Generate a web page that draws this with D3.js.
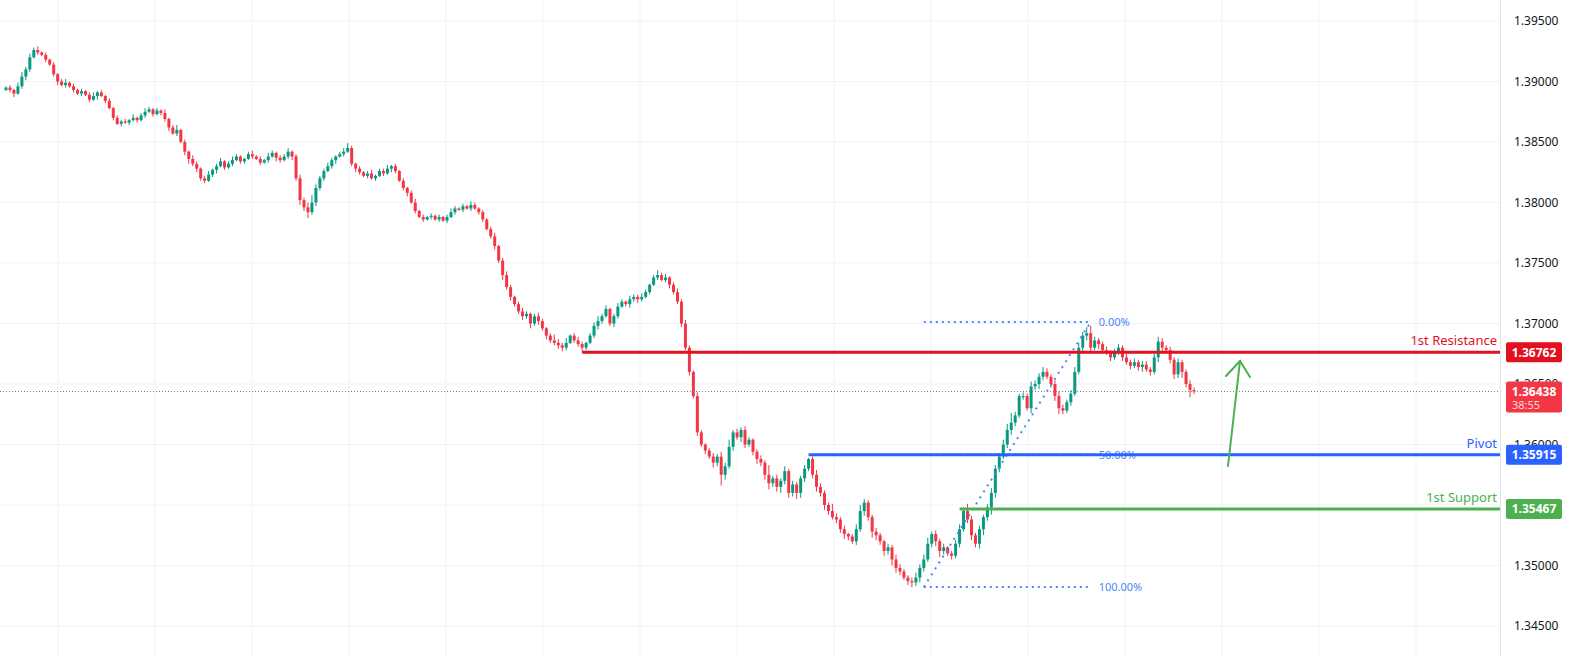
<!DOCTYPE html>
<html>
<head>
<meta charset="utf-8">
<script src="https://cdn.jsdelivr.net/npm/d3@7"></script>
<style>
body { margin: 0; background: #fff; }
text { font-family: "Noto Sans", Roboto, sans-serif; }
</style>
</head>
<body>
<div id="chart"></div>
<script>
// cierres en unidades de 0.0001 (3895 -> 1.3895)
const closes = [
  3895,3893,3890,3896,3904,3910,3920,3926,3924,3922,
  3918,3914,3906,3900,3897,3899,3896,3893,3890,3892,
  3889,3885,3888,3891,3888,3884,3878,3870,3865,3867,
  3866,3868,3870,3868,3872,3875,3877,3873,3876,3874,
  3869,3862,3857,3860,3850,3842,3836,3832,3828,3820,
  3818,3823,3827,3830,3834,3829,3832,3835,3838,3834,
  3836,3840,3838,3836,3833,3835,3838,3841,3837,3835,
  3838,3842,3838,3820,3802,3796,3792,3800,3812,3820,
  3826,3830,3835,3838,3840,3842,3845,3832,3828,3825,
  3822,3824,3820,3822,3826,3824,3828,3830,3826,3818,
  3812,3808,3800,3793,3788,3786,3788,3789,3786,3788,
  3785,3788,3792,3795,3794,3797,3795,3798,3795,3792,
  3786,3778,3772,3764,3752,3740,3730,3722,3716,3710,
  3706,3708,3700,3706,3702,3696,3690,3686,3684,3682,
  3680,3684,3690,3686,3683,3680,3684,3690,3698,3702,
  3706,3712,3700,3706,3714,3718,3716,3720,3722,3720,
  3722,3726,3732,3738,3740,3736,3738,3732,3726,3718,
  3700,3680,3660,3640,3610,3600,3595,3590,3585,3590,
  3575,3582,3598,3610,3606,3612,3600,3604,3594,3588,
  3585,3575,3568,3572,3565,3570,3578,3560,3567,3560,
  3572,3580,3588,3575,3565,3560,3550,3545,3540,3538,
  3530,3526,3524,3520,3530,3545,3552,3540,3528,3525,
  3520,3512,3515,3505,3498,3495,3490,3487,3486,3490,
  3498,3505,3518,3526,3520,3512,3515,3510,3508,3518,
  3530,3545,3538,3525,3518,3530,3540,3548,3560,3580,
  3590,3600,3612,3618,3624,3640,3640,3630,3648,3650,
  3656,3660,3656,3650,3640,3630,3628,3635,3642,3660,
  3680,3690,3692,3680,3686,3683,3678,3676,3672,3676,
  3680,3672,3668,3665,3668,3664,3666,3662,3660,3672,
  3685,3680,3678,3670,3658,3668,3660,3650,3645,3643.8
];
// mechas (unidades de 0.0001) por encima y por debajo del cuerpo
const upperWick = [
  1,2,1,3,4,2,3,2,3,1, 2,1,2,1,2,3,1,2,1,2, 1,2,3,1,2,1,2,1,2,1, 2,1,3,1,2,3,2,1,2,1,
  3,1,2,4,1,2,1,3,2,1, 2,3,1,2,3,1,2,3,2,1, 1,2,3,1,2,1,3,2,1,2, 2,3,1,2,3,2,4,6,3,2,
  2,3,2,1,2,3,4,2,1,2, 1,2,3,1,2,2,3,1,2,1, 2,1,2,3,1,2,1,2,1,2, 1,2,3,2,1,2,1,3,2,1,
  2,1,2,3,1,2,3,2,1,2, 3,2,1,2,3,2,1,2,5,3, 2,4,1,2,3,2,1,2,3,4, 2,3,1,2,3,2,1,3,2,2,
  3,2,1,2,4,2,3,1,2,3, 2,3,2,1,3,2,1,2,3,2, 4,3,6,2,3,2,3,2,1,2, 3,2,8,2,3,2,4,2,3,2,
  2,3,1,2,4,3,2,2,6,3, 2,3,1,2,4,5,3,2,2,3, 2,1,3,2,4,3,2,2,3,4, 3,4,5,2,3,2,3,1,2,3,
  4,3,6,3,2,3,2,3,4,3, 3,4,5,8,3,2,3,2,4,3, 3,4,3,2,3,4,3,2,3,4, 4,3,5,6,3,2,2,3,2,3,
  3,2,3,2,3,2,3,3,2,3, 4,3,2,3,2,3,2,2,3,2
];
const lowerWick = [
  1,2,3,1,2,3,2,1,2,1, 2,1,2,3,1,2,1,2,1,2, 1,2,1,3,1,2,1,2,1,2, 1,2,1,2,1,2,1,2,1,2,
  2,3,1,2,1,3,4,2,3,2, 2,1,2,3,1,2,1,2,1,2, 2,1,2,1,2,1,2,1,3,2, 1,2,3,2,4,3,5,2,3,2,
  2,1,2,3,1,2,1,2,3,2, 1,2,1,2,1,2,1,3,2,1, 2,3,1,2,1,2,1,2,1,2, 1,2,1,2,1,2,1,2,1,2,
  2,1,2,3,2,4,2,3,2,2, 3,2,4,2,3,2,3,2,2,3, 3,2,1,2,2,3,2,1,2,3, 2,1,2,3,2,1,2,3,2,3,
  2,1,2,1,2,1,2,3,2,2, 3,2,3,2,3,2,3,2,4,3, 9,4,2,3,2,4,3,2,3,4, 3,4,5,3,4,5,3,4,3,5,
  4,3,2,3,4,3,4,3,2,3, 3,4,3,2,3,2,4,3,5,4, 3,4,3,5,4,3,2,3,4,3, 4,3,2,3,4,5,3,2,3,2,
  3,2,3,4,3,4,5,3,6,4, 3,2,3,4,3,2,3,2,4,3, 4,3,2,3,4,5,3,2,3,2, 2,3,4,3,2,4,3,2,3,2,
  2,3,2,3,2,3,4,2,3,2, 4,3,2,3,4,3,5,3,6,2
];
const priceTicks = [1.345, 1.35, 1.355, 1.36, 1.365, 1.37, 1.375, 1.38, 1.385, 1.39, 1.395];
const gridX = [58, 155, 252, 349, 446, 543, 640, 737, 834, 931, 1028, 1125, 1222, 1319, 1416];
const levels = [
  { name: "1st Resistance", price: 1.36762, startIdx: 145, color: "#e3111f" },
  { name: "Pivot", price: 1.35915, startIdx: 202, color: "#2962ff" },
  { name: "1st Support", price: 1.35467, startIdx: 240, color: "#4caf50" }
];
const fib = { startIdx: 231, endIdx: 273, low: 1.34822, high: 1.37012 };
const fibLevels = [0, 0.5, 1];
const lastPrice = 1.36438;
const countdown = "38:55";

const W = 1580, H = 656, plotRight = 1500;
const svg = d3.select("#chart").append("svg").attr("width", W).attr("height", H);

const y = d3.scaleLinear().domain([1.345, 1.395]).range([626, 21]);
const x = d3.scaleLinear().domain([0, closes.length - 1]).range([6, 1194]);

// rejilla
svg.append("g").selectAll("line").data(priceTicks).join("line")
  .attr("x1", 0).attr("x2", plotRight).attr("y1", d => y(d)).attr("y2", d => y(d))
  .attr("stroke", "#f0f3fa");
svg.append("g").selectAll("line").data(gridX).join("line")
  .attr("x1", d => d).attr("x2", d => d).attr("y1", 0).attr("y2", H)
  .attr("stroke", "#f0f3fa");
svg.append("line").attr("x1", plotRight + 0.5).attr("x2", plotRight + 0.5)
  .attr("y1", 0).attr("y2", H).attr("stroke", "#e0e3eb");

// eje de precios
svg.append("g").selectAll("text").data(priceTicks).join("text")
  .attr("x", 1514).attr("y", d => y(d) + 4)
  .attr("font-size", 12).attr("fill", "#131722")
  .text(d => d.toFixed(5));

// velas
const candles = closes.map((c, i) => {
  const open = i === 0 ? 3893 : closes[i - 1];
  const top = Math.max(open, c), bot = Math.min(open, c);
  return { i, open: open / 1e4 + 1, close: c / 1e4 + 1,
           high: (top + upperWick[i]) / 1e4 + 1, low: (bot - lowerWick[i]) / 1e4 + 1 };
});
const g = svg.append("g");
g.selectAll("line").data(candles).join("line")
  .attr("x1", d => x(d.i)).attr("x2", d => x(d.i))
  .attr("y1", d => y(d.high)).attr("y2", d => y(d.low))
  .attr("stroke", d => d.close >= d.open ? "#089981" : "#f23645");
g.selectAll("rect").data(candles).join("rect")
  .attr("x", d => x(d.i) - 1.5).attr("width", 3)
  .attr("y", d => y(Math.max(d.open, d.close)))
  .attr("height", d => Math.max(1, Math.abs(y(d.open) - y(d.close))))
  .attr("fill", d => d.close >= d.open ? "#089981" : "#f23645");

// línea de precio actual
svg.append("line").attr("x1", 0).attr("x2", plotRight)
  .attr("y1", y(lastPrice)).attr("y2", y(lastPrice))
  .attr("stroke", "#787b86").attr("stroke-dasharray", "1,2");

// fibonacci
const fibColor = "#4e86f5";
const fibX1 = x(fib.startIdx), fibX2 = x(fib.endIdx);
fibLevels.forEach(f => {
  const py = y(fib.high - f * (fib.high - fib.low));
  svg.append("line").attr("x1", fibX1).attr("x2", fibX2).attr("y1", py).attr("y2", py)
    .attr("stroke", fibColor).attr("stroke-width", 2).attr("stroke-dasharray", "2,4");
  svg.append("text").attr("x", fibX2 + 8).attr("y", py + 4)
    .attr("font-size", 11).attr("fill", fibColor)
    .text((f * 100).toFixed(2) + "%");
});
svg.append("line").attr("x1", fibX1).attr("y1", y(fib.low)).attr("x2", fibX2).attr("y2", y(fib.high))
  .attr("stroke", fibColor).attr("stroke-width", 2).attr("stroke-dasharray", "2,5");

// niveles
levels.forEach(l => {
  const py = y(l.price);
  svg.append("line").attr("x1", x(l.startIdx)).attr("x2", plotRight).attr("y1", py).attr("y2", py)
    .attr("stroke", l.color).attr("stroke-width", 3);
  svg.append("text").attr("x", 1497).attr("y", py - 7).attr("text-anchor", "end")
    .attr("font-size", 13).attr("fill", l.color).text(l.name);
  svg.append("rect").attr("x", 1506).attr("y", py - 10).attr("width", 56).attr("height", 20)
    .attr("rx", 2).attr("fill", l.color);
  svg.append("text").attr("x", 1534).attr("y", py + 4.5).attr("text-anchor", "middle")
    .attr("font-size", 12).attr("font-weight", "bold").attr("fill", "#fff")
    .text(l.price.toFixed(5));
});

// etiqueta precio actual
const ly = y(lastPrice);
svg.append("rect").attr("x", 1506).attr("y", ly - 10).attr("width", 56).attr("height", 31)
  .attr("rx", 2).attr("fill", "#f23645");
svg.append("text").attr("x", 1534).attr("y", ly + 4.5).attr("text-anchor", "middle")
  .attr("font-size", 12).attr("font-weight", "bold").attr("fill", "#fff").text(lastPrice.toFixed(5));
svg.append("text").attr("x", 1512).attr("y", ly + 17).attr("font-size", 11)
  .attr("fill", "#ffd6d9").text(countdown);

// flecha verde
const ag = svg.append("g").attr("stroke", "#4caf50").attr("stroke-width", 2)
  .attr("fill", "none").attr("stroke-linecap", "round");
ag.append("line").attr("x1", 1228).attr("y1", 466).attr("x2", 1240).attr("y2", 361);
ag.append("polyline").attr("points", "1226,376 1240,361 1250,377");
</script>
</body>
</html>
